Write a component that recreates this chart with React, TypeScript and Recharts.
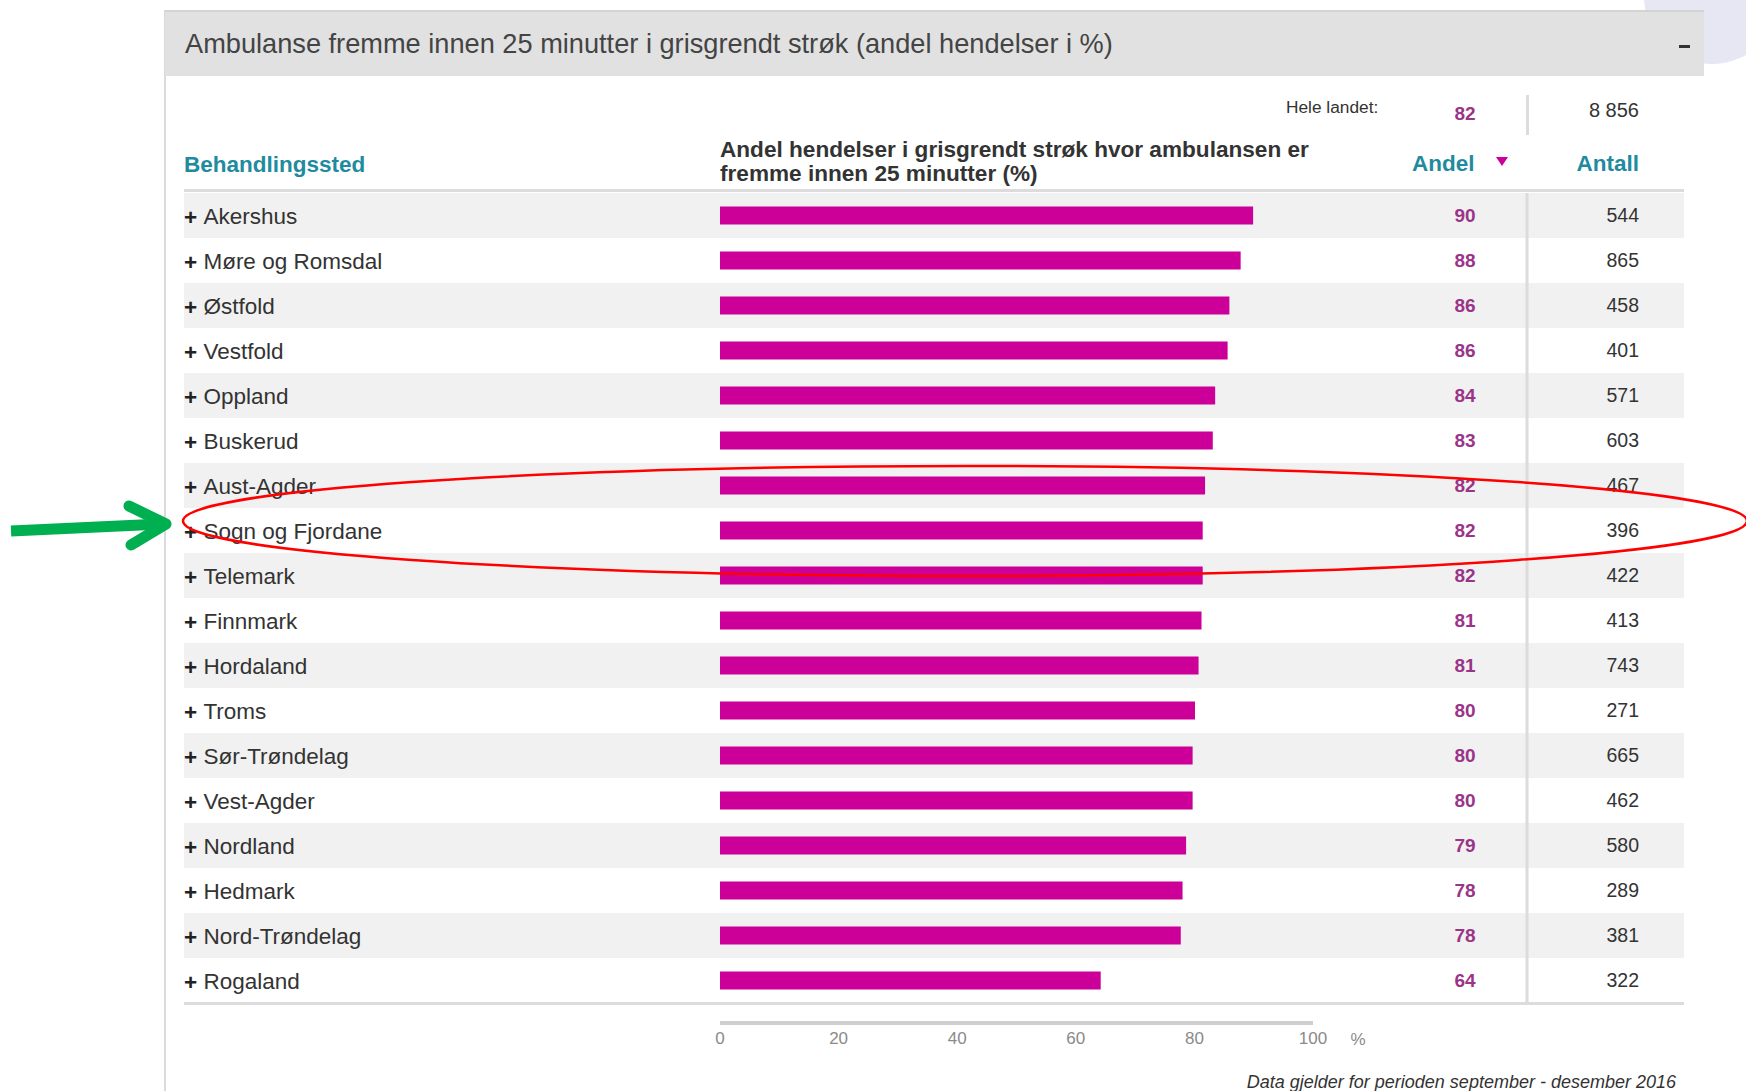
import React from "react";
import { Bar, BarChart, LabelList, XAxis, YAxis } from "recharts";

// behandlingssted, sorted by andel (descending) like the source table
const regions = [
  "Akershus",
  "Møre og Romsdal",
  "Østfold",
  "Vestfold",
  "Oppland",
  "Buskerud",
  "Aust-Agder",
  "Sogn og Fjordane",
  "Telemark",
  "Finnmark",
  "Hordaland",
  "Troms",
  "Sør-Trøndelag",
  "Vest-Agder",
  "Nordland",
  "Hedmark",
  "Nord-Trøndelag",
  "Rogaland",
];

// bar lengths (%)
const andel = [
  89.9, 87.8, 85.9, 85.6, 83.5, 83.1, 81.8, 81.4, 81.4, 81.2, 80.7, 80.1, 79.7,
  79.7, 78.6, 78.0, 77.7, 64.2,
];

// rounded values printed in the "Andel" column
const andelLabels = [90, 88, 86, 86, 84, 83, 82, 82, 82, 81, 81, 80, 80, 80, 79, 78, 78, 64];

const antall = [544, 865, 458, 401, 571, 603, 467, 396, 422, 413, 743, 271, 665, 462, 580, 289, 381, 322];

const xTicks = [0, 20, 40, 60, 80, 100];

const heleLandetAndel = 82;
const heleLandetAntall = "8 856";

const rows = regions.map((name, i) => ({
  name,
  andel: andel[i],
  label: andelLabels[i],
  antall: antall[i],
}));

const FONT = '"Liberation Sans", Arial, sans-serif';
const TEAL = "#1f8b9e";
const BAR = "#cc0099";
const PURPLE = "#9b3488";
const TEXT = "#333";
const LINE = "#dcdcdc";

const ROW_LEFT = 184;
const ROW_RIGHT = 1684;
const DIVIDER_X = 1527;
const ANDEL_X = 1465;
const ANTALL_X = 1639;

function RowBackground(props: any) {
  const { y, height, index } = props;
  return (
    <g>
      {index % 2 === 0 && (
        <rect x={ROW_LEFT} y={y} width={ROW_RIGHT - ROW_LEFT} height={height} fill="#f1f1f1" />
      )}
      <rect x={DIVIDER_X - 1.5} y={y} width={3} height={height} fill={LINE} />
      {index === rows.length - 1 && (
        <rect x={ROW_LEFT} y={y + height - 1} width={ROW_RIGHT - ROW_LEFT} height={3} fill={LINE} />
      )}
    </g>
  );
}

function SlimBar(props: any) {
  const { x, y, width, height } = props;
  return <rect x={x} y={y + height / 2 - 9} width={width} height={18} fill={BAR} />;
}

function RowLabel(props: any) {
  const { y, payload } = props;
  return (
    <text x={ROW_LEFT} y={y + 1} dominantBaseline="central" fontFamily={FONT} fontSize={22.5} fill={TEXT}>
      <tspan fontWeight="bold" fill="#222">+</tspan>
      {"\u00a0" + payload.value}
    </text>
  );
}

function rowCenter(p: any) {
  const vb = p.viewBox ?? p;
  return vb.y + vb.height / 2;
}

function AndelLabel(p: any) {
  return (
    <text
      x={ANDEL_X}
      y={rowCenter(p)}
      textAnchor="middle"
      dominantBaseline="central"
      fontFamily={FONT}
      fontWeight="bold"
      fontSize={19}
      fill={PURPLE}
    >
      {p.value}
    </text>
  );
}

function AntallLabel(p: any) {
  return (
    <text
      x={ANTALL_X}
      y={rowCenter(p) - 1}
      textAnchor="end"
      dominantBaseline="central"
      fontFamily={FONT}
      fontSize={19.5}
      fill={TEXT}
    >
      {p.value}
    </text>
  );
}

type PosTextProps = {
  x: number;
  y: number;
  align?: "left" | "center" | "right";
  style?: React.CSSProperties;
  children: React.ReactNode;
};

function PosText({ x, y, align = "left", style, children }: PosTextProps) {
  const tx = align === "left" ? "0" : align === "center" ? "-50%" : "-100%";
  return (
    <div
      style={{
        position: "absolute",
        left: x,
        top: y,
        transform: `translate(${tx}, -50%)`,
        whiteSpace: "nowrap",
        lineHeight: 1,
        fontFamily: FONT,
        color: TEXT,
        ...style,
      }}
    >
      {children}
    </div>
  );
}

export default function App() {
  return (
    <div
      style={{
        position: "absolute",
        left: 0,
        top: 0,
        width: 1746,
        height: 1091,
        overflow: "hidden",
        background: "#fff",
        fontFamily: FONT,
      }}
    >
      {/* decorative circle behind the panel header */}
      <div
        style={{
          position: "absolute",
          left: 1712 - 68,
          top: -4 - 68,
          width: 136,
          height: 136,
          borderRadius: "50%",
          background: "#e7e7f3",
        }}
      />

      {/* panel left border */}
      <div style={{ position: "absolute", left: 164, top: 10, width: 2, height: 1081, background: "#dadada" }} />

      {/* panel header */}
      <div
        style={{
          position: "absolute",
          left: 165,
          top: 10,
          width: 1539,
          height: 66,
          background: "#e1e1e1",
          borderTop: "2px solid #d3d3d3",
          boxSizing: "border-box",
        }}
      />
      <PosText x={185} y={44} style={{ fontSize: 27.2, color: "#444" }}>
        Ambulanse fremme innen 25 minutter i grisgrendt strøk (andel hendelser i %)
      </PosText>
      <div style={{ position: "absolute", left: 1679, top: 45, width: 11, height: 3, background: "#333" }} />

      {/* national total */}
      <PosText x={1286} y={108} style={{ fontSize: 17.3, color: "#333" }}>
        Hele landet:
      </PosText>
      <PosText x={ANDEL_X} y={113} align="center" style={{ fontSize: 19, fontWeight: "bold", color: PURPLE }}>
        {heleLandetAndel}
      </PosText>
      <div style={{ position: "absolute", left: DIVIDER_X - 1.5, top: 95, width: 3, height: 40, background: LINE }} />
      <PosText x={ANTALL_X} y={110} align="right" style={{ fontSize: 20 }}>
        {heleLandetAntall}
      </PosText>

      {/* column headers */}
      <PosText x={ROW_LEFT} y={165} style={{ fontSize: 22.5, fontWeight: "bold", color: TEAL }}>
        Behandlingssted
      </PosText>
      <PosText x={720} y={150} style={{ fontSize: 22.6, fontWeight: "bold", color: TEXT }}>
        Andel hendelser i grisgrendt strøk hvor ambulansen er
      </PosText>
      <PosText x={720} y={174} style={{ fontSize: 22.6, fontWeight: "bold", color: TEXT }}>
        fremme innen 25 minutter (%)
      </PosText>
      <PosText x={1412} y={164} style={{ fontSize: 22.5, fontWeight: "bold", color: TEAL }}>
        Andel
      </PosText>
      <div
        style={{
          position: "absolute",
          left: 1496,
          top: 157,
          width: 0,
          height: 0,
          borderLeft: "6px solid transparent",
          borderRight: "6px solid transparent",
          borderTop: "9px solid " + BAR,
        }}
      />
      <PosText x={ANTALL_X} y={164} align="right" style={{ fontSize: 22.5, fontWeight: "bold", color: TEAL }}>
        Antall
      </PosText>
      <div style={{ position: "absolute", left: ROW_LEFT, top: 189, width: ROW_RIGHT - ROW_LEFT, height: 3, background: LINE }} />

      {/* table rows + bars */}
      <div style={{ position: "absolute", left: 0, top: 193 }}>
        <BarChart
          layout="vertical"
          width={1746}
          height={870}
          data={rows}
          margin={{ top: 0, right: 433, bottom: 0, left: 0 }}
          barCategoryGap={0}
        >
          <Bar
            dataKey="andel"
            background={RowBackground}
            shape={SlimBar}
            isAnimationActive={false}
          >
            <LabelList dataKey="label" content={AndelLabel} />
            <LabelList dataKey="antall" content={AntallLabel} />
          </Bar>
          <YAxis
            type="category"
            dataKey="name"
            width={720}
            axisLine={false}
            tickLine={false}
            interval={0}
            padding={{ top: 0, bottom: 20 }}
            tick={<RowLabel />}
          />
          <XAxis
            type="number"
            domain={[0, 100]}
            ticks={xTicks}
            interval={0}
            height={40}
            axisLine={{ stroke: "#cfcfcf", strokeWidth: 4 }}
            tickLine={false}
            tickMargin={3}
            tick={{ fill: "#8a8a8a", fontSize: 17, fontFamily: FONT }}
          />
        </BarChart>
      </div>

      <PosText x={1358} y={1039} align="center" style={{ fontSize: 17, color: "#8a8a8a" }}>
        %
      </PosText>

      <PosText x={1676} y={1082} align="right" style={{ fontSize: 18, fontStyle: "italic", color: TEXT }}>
        Data gjelder for perioden september - desember 2016
      </PosText>

      {/* hand-drawn annotations */}
      <svg
        width={1746}
        height={1091}
        style={{ position: "absolute", left: 0, top: 0, pointerEvents: "none" }}
      >
        <ellipse cx={965} cy={521} rx={782} ry={55} fill="none" stroke="#ff0000" strokeWidth={2.5} />
        <line x1={11} y1={531} x2={162} y2={524} stroke="#00b050" strokeWidth={11} />
        <polyline
          points="129,506 166,524 131,545"
          fill="none"
          stroke="#00b050"
          strokeWidth={11}
          strokeLinecap="round"
          strokeLinejoin="round"
        />
      </svg>
    </div>
  );
}
